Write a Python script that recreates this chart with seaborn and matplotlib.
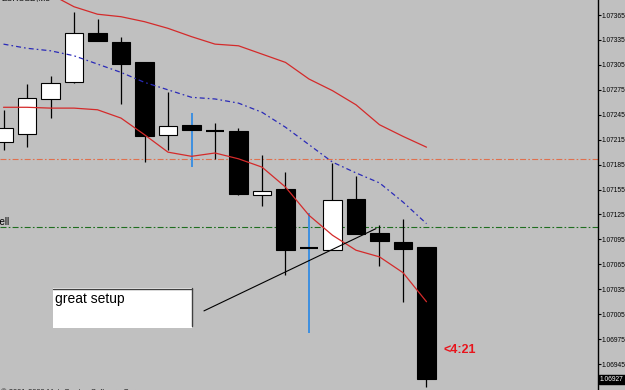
import numpy as np
import pandas as pd
import matplotlib
matplotlib.use("Agg")
import matplotlib.pyplot as plt
import seaborn as sns
from matplotlib.patches import Rectangle
from matplotlib.lines import Line2D

# ---------------- data ----------------
bar_index = list(range(19))
open_ = [1.07212, 1.07222, 1.07264, 1.07284, 1.07343, 1.07333, 1.07308, 1.07221, 1.07233, 1.07226,
         1.07226, 1.07148, 1.07156, 1.07085, 1.07082, 1.07144, 1.07103, 1.07092, 1.07086]
high_ = [1.07251, 1.07282, 1.07292, 1.07369, 1.07360, 1.07339, 1.07308, 1.07272, 1.07247, 1.07235,
         1.07229, 1.07197, 1.07176, 1.07127, 1.07187, 1.07171, 1.07112, 1.07120, 1.07086]
low_ = [1.07203, 1.07206, 1.07241, 1.07283, 1.07334, 1.07258, 1.07188, 1.07203, 1.07182, 1.07192,
        1.07148, 1.07135, 1.07052, 1.06982, 1.07082, 1.07102, 1.07063, 1.07020, 1.06917]
close_ = [1.07229, 1.07265, 1.07283, 1.07343, 1.07334, 1.07306, 1.07220, 1.07232, 1.07227, 1.07226,
          1.07150, 1.07153, 1.07082, 1.07085, 1.07142, 1.07102, 1.07093, 1.07084, 1.06927]
blue_wick_bars = [8, 13]

ma_upper_index = bar_index[2:]
ma_upper = [1.07390, 1.07375, 1.07366, 1.07363, 1.07357, 1.07349, 1.07339, 1.07330, 1.07328,
            1.07318, 1.07308, 1.07288, 1.07274, 1.07257, 1.07233, 1.07219, 1.07206]
ma_lower = [1.07254, 1.07254, 1.07253, 1.07253, 1.07251, 1.07241, 1.07221, 1.07200, 1.07195, 1.07199,
            1.07192, 1.07182, 1.07158, 1.07124, 1.07100, 1.07082, 1.07074, 1.07055, 1.07020]
ma_blue = [1.07330, 1.07325, 1.07322, 1.07316, 1.07306, 1.07296, 1.07284, 1.07275, 1.07266, 1.07264,
           1.07259, 1.07248, 1.07230, 1.07209, 1.07188, 1.07175, 1.07163, 1.07140, 1.07114]

level_red = 1.07192
level_green = 1.07110
trend_x = [8.53, 15.85]
trend_p = [1.07009, 1.07108]

tick_prices = [1.06945, 1.06975, 1.07005, 1.07035, 1.07065, 1.07095, 1.07125, 1.07155,
               1.07185, 1.07215, 1.07245, 1.07275, 1.07305, 1.07335, 1.07365]
last_price = 1.06927

# ---------------- style ----------------
BG = "#c0c0c0"
sns.set_theme(style="white")
plt.rcParams["font.family"] = ["Liberation Sans", "DejaVu Sans"]
plt.rcParams["lines.scale_dashes"] = False

W, H = 625, 390
fig = plt.figure(figsize=(W / 100, H / 100), dpi=100, facecolor=BG)
ax = fig.add_axes([0, 0, 598 / W, 1])
ax.set_facecolor(BG)
ax.grid(False)

ax.set_xlim(-0.149, 25.298)
ax.set_ylim(1.069138, 1.073831)

x = np.array(bar_index, dtype=float)
o = np.array(open_)
c = np.array(close_)
hi = np.array(high_)
lo = np.array(low_)

# moving averages
df_u = pd.DataFrame({"i": ma_upper_index, "p": ma_upper})
df_l = pd.DataFrame({"i": bar_index, "p": ma_lower})
df_b = pd.DataFrame({"i": bar_index, "p": ma_blue})
sns.lineplot(data=df_u, x="i", y="p", ax=ax, color="#d42a2a", lw=0.9, zorder=4)
sns.lineplot(data=df_l, x="i", y="p", ax=ax, color="#d42a2a", lw=0.9, zorder=4)
sns.lineplot(data=df_b, x="i", y="p", ax=ax, color="#2a2ab8", lw=0.9, zorder=4)
ax.lines[-1].set_dashes((3.6, 2.2, 1.2, 2.2))

# horizontal levels
ax.axhline(level_red, color="#e0704e", lw=0.8, dashes=(4.3, 1.6, 1.2, 1.6), zorder=1)
ax.axhline(level_green, color="#1f6e1f", lw=0.8, dashes=(4.3, 1.6, 1.2, 1.6), zorder=1)

# trend line
sns.lineplot(x=trend_x, y=trend_p, ax=ax, color="black", lw=0.8, zorder=5)

# wicks
wick_colors = ["#3d8fe0" if i in blue_wick_bars else "black" for i in bar_index]
wick_lw = [1.4 if i in blue_wick_bars else 0.9 for i in bar_index]
ax.vlines(x, lo, hi, colors=wick_colors, linewidths=wick_lw, zorder=2)

# bodies
body_w = 0.77
doji = np.isclose(o, c)
face = ["white" if cc > oo else "black" for oo, cc in zip(o, c)]
mask = ~doji
ax.bar(x[mask], np.abs(c - o)[mask], bottom=np.minimum(o, c)[mask], width=body_w,
       color=np.array(face)[mask], edgecolor="black", linewidth=0.8, zorder=3)
ax.hlines(o[doji], x[doji] - body_w / 2, x[doji] + body_w / 2, colors="black", linewidth=1.5, zorder=3)

# axis styling
for s in ["top", "left", "bottom"]:
    ax.spines[s].set_visible(False)
ax.spines["right"].set_color("black")
ax.spines["right"].set_linewidth(1.0)
ax.set_xticks([])
ax.yaxis.tick_right()
ax.set_yticks(tick_prices)
ax.set_yticklabels([f"{p:.5f}" for p in tick_prices])
ax.tick_params(axis="y", direction="out", length=2.0, width=0.8, pad=0.3, labelsize=4.8,
               colors="black", right=True, left=False)
ax.set_xlabel("")
ax.set_ylabel("")

# last price label
ax.text(1.003, last_price, f"{last_price:.5f}", transform=ax.get_yaxis_transform(),
        va="center", ha="left", color="white", fontsize=4.8, clip_on=False,
        bbox=dict(fc="black", ec="black", pad=0.7), zorder=10)

# ---------------- annotations (figure pixel coords) ----------------
def fx(px):
    return px / W


def fy(py):
    return 1 - py / H


fig.patches.append(Rectangle((fx(53), fy(328)), fx(192) - fx(53), fy(288) - fy(328),
                             transform=fig.transFigure, fc="white", ec="none", zorder=20))
fig.lines.append(Line2D([fx(53), fx(192)], [fy(288.5), fy(288.5)], transform=fig.transFigure,
                        color="#404040", lw=1.0, zorder=21))
fig.lines.append(Line2D([fx(191.5), fx(191.5)], [fy(288), fy(326)], transform=fig.transFigure,
                        color="#404040", lw=1.0, zorder=21))
fig.text(fx(55), fy(303), "great setup", fontsize=10, color="black", va="baseline", ha="left", zorder=22)

fig.text(fx(443), fy(353), "<4:21", fontsize=9, color="#e8141c", fontweight="bold",
         va="baseline", ha="left")
fig.text(fx(-6.5), fy(225), "Sell", fontsize=7, color="black", va="baseline", ha="left")
fig.text(fx(1), fy(0.0), "EURUSD,M5", fontsize=6, color="black", va="baseline", ha="left")
fig.text(fx(1), fy(393.5), "\u00a9 2001-2009 MetaQuotes Software Corp.", fontsize=5.5,
         color="#202020", va="baseline", ha="left")

fig.savefig("out.png", dpi=100, facecolor=BG)
